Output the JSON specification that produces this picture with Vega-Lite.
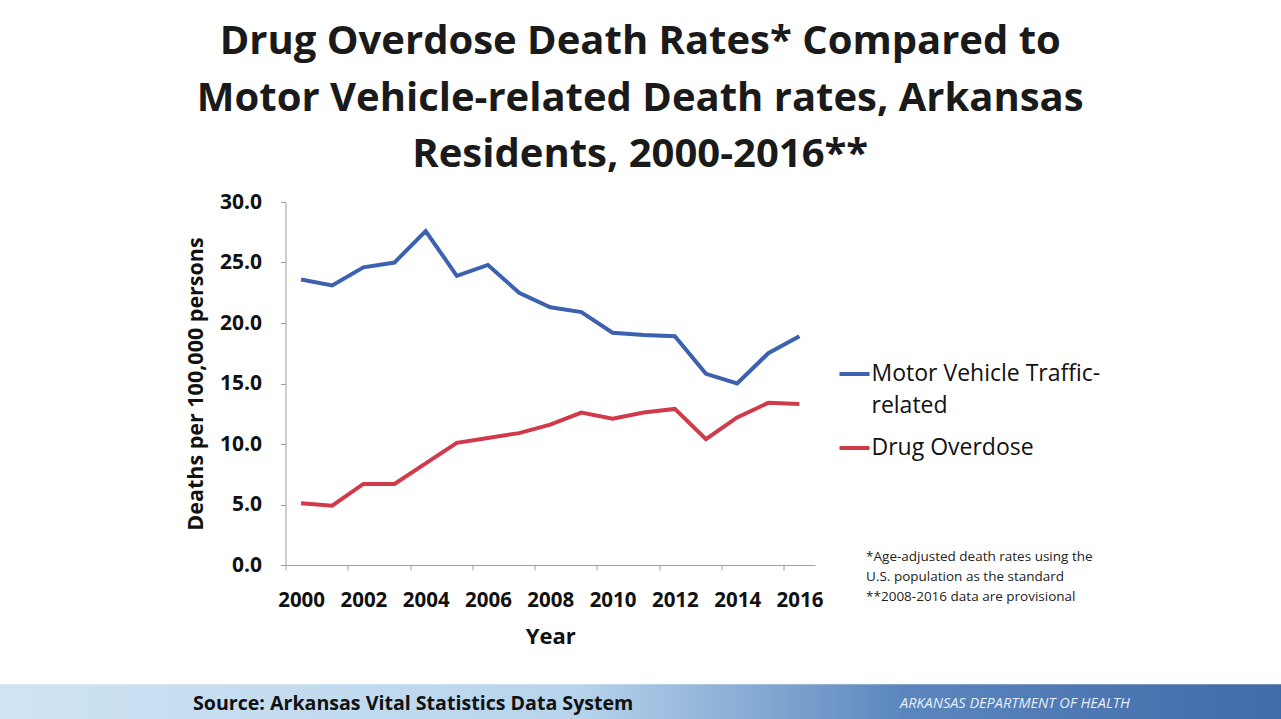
{
  "$schema": "https://vega.github.io/schema/vega-lite/v6.json",
  "autosize": {"type": "none"},
  "width": 529.5,
  "height": 363,
  "padding": {"left": 285.5, "top": 202, "right": 466, "bottom": 154},
  "background": "white",
  "config": {
    "font": "Open Sans",
    "view": {"stroke": null},
    "axis": {"grid": false}
  },
  "title": {
    "text": ["Drug Overdose Death Rates* Compared to", "Motor Vehicle-related Death rates, Arkansas", "Residents, 2000-2016**"],
    "font": "Open Sans",
    "fontSize": 40,
    "fontWeight": "bold",
    "color": "#1a1a1a",
    "anchor": "middle",
    "frame": "group",
    "dx": 90,
    "lineHeight": 56.5,
    "offset": 16
  },
  "data": {
    "values": [
      {"year": 2000, "series": "Motor Vehicle Traffic-related", "rate": 23.6},
      {"year": 2001, "series": "Motor Vehicle Traffic-related", "rate": 23.1},
      {"year": 2002, "series": "Motor Vehicle Traffic-related", "rate": 24.6},
      {"year": 2003, "series": "Motor Vehicle Traffic-related", "rate": 25.0},
      {"year": 2004, "series": "Motor Vehicle Traffic-related", "rate": 27.6},
      {"year": 2005, "series": "Motor Vehicle Traffic-related", "rate": 23.9},
      {"year": 2006, "series": "Motor Vehicle Traffic-related", "rate": 24.8},
      {"year": 2007, "series": "Motor Vehicle Traffic-related", "rate": 22.5},
      {"year": 2008, "series": "Motor Vehicle Traffic-related", "rate": 21.3},
      {"year": 2009, "series": "Motor Vehicle Traffic-related", "rate": 20.9},
      {"year": 2010, "series": "Motor Vehicle Traffic-related", "rate": 19.2},
      {"year": 2011, "series": "Motor Vehicle Traffic-related", "rate": 19.0},
      {"year": 2012, "series": "Motor Vehicle Traffic-related", "rate": 18.9},
      {"year": 2013, "series": "Motor Vehicle Traffic-related", "rate": 15.8},
      {"year": 2014, "series": "Motor Vehicle Traffic-related", "rate": 15.0},
      {"year": 2015, "series": "Motor Vehicle Traffic-related", "rate": 17.5},
      {"year": 2016, "series": "Motor Vehicle Traffic-related", "rate": 18.9},
      {"year": 2000, "series": "Drug Overdose", "rate": 5.1},
      {"year": 2001, "series": "Drug Overdose", "rate": 4.9},
      {"year": 2002, "series": "Drug Overdose", "rate": 6.7},
      {"year": 2003, "series": "Drug Overdose", "rate": 6.7},
      {"year": 2004, "series": "Drug Overdose", "rate": 8.4},
      {"year": 2005, "series": "Drug Overdose", "rate": 10.1},
      {"year": 2006, "series": "Drug Overdose", "rate": 10.5},
      {"year": 2007, "series": "Drug Overdose", "rate": 10.9},
      {"year": 2008, "series": "Drug Overdose", "rate": 11.6},
      {"year": 2009, "series": "Drug Overdose", "rate": 12.6},
      {"year": 2010, "series": "Drug Overdose", "rate": 12.1},
      {"year": 2011, "series": "Drug Overdose", "rate": 12.6},
      {"year": 2012, "series": "Drug Overdose", "rate": 12.9},
      {"year": 2013, "series": "Drug Overdose", "rate": 10.4},
      {"year": 2014, "series": "Drug Overdose", "rate": 12.2},
      {"year": 2015, "series": "Drug Overdose", "rate": 13.4},
      {"year": 2016, "series": "Drug Overdose", "rate": 13.3}
    ]
  },
  "layer": [
    {
      "mark": {"type": "rect", "clip": false, "fill": {"gradient": "linear", "x1": 0, "x2": 1, "y1": 0, "y2": 0, "stops": [{"offset": 0, "color": "#cfe4f3"}, {"offset": 0.45, "color": "#b7d4ec"}, {"offset": 0.7, "color": "#5b86bd"}, {"offset": 1, "color": "#3f69a8"}]}},
      "data": {"values": [{"label": "footer"}]},
      "encoding": {
        "x": {"datum": 1990},
        "x2": {"datum": 2032},
        "y": {"datum": -9.85},
        "y2": {"datum": -13}
      }
    },
    {
      "mark": {"type": "text", "clip": false, "align": "left", "baseline": "middle", "font": "Open Sans", "fontSize": 19.6, "fontWeight": "bold", "color": "#111"},
      "data": {"values": [{"label": "Source: Arkansas Vital Statistics Data System"}]},
      "encoding": {
        "x": {"datum": 1996.53},
        "y": {"datum": -11.5},
        "text": {"field": "label"}
      }
    },
    {
      "mark": {"type": "text", "clip": false, "align": "left", "baseline": "middle", "font": "Open Sans", "fontSize": 14.5, "fontStyle": "italic", "color": "#e6eef7"},
      "data": {"values": [{"label": "ARKANSAS DEPARTMENT OF HEALTH"}]},
      "encoding": {
        "x": {"datum": 2019.23},
        "y": {"datum": -11.5},
        "text": {"field": "label"}
      }
    },
    {
      "mark": {"type": "text", "clip": false, "align": "left", "baseline": "top", "font": "Open Sans", "fontSize": 13.5, "lineHeight": 20, "color": "#222"},
      "data": {"values": [{"label": ["*Age-adjusted death rates using the", "U.S. population as the standard", "**2008-2016 data are provisional"]}]},
      "encoding": {
        "x": {"datum": 2018.14},
        "y": {"datum": 1.25},
        "text": {"field": "label"}
      }
    },
    {
      "mark": {"type": "line", "strokeWidth": 4, "clip": false},
      "encoding": {
        "x": {
          "field": "year",
          "type": "quantitative",
          "scale": {"domain": [1999.5, 2016.5], "nice": false, "zero": false},
          "axis": {
            "title": "Year",
            "titleFont": "Open Sans",
            "titleFontSize": 22,
            "titleFontWeight": "bold",
            "titleColor": "#111",
            "titlePadding": 16,
            "values": [1999.5, 2000.5, 2001.5, 2002.5, 2003.5, 2004.5, 2005.5, 2006.5, 2007.5, 2008.5, 2009.5, 2010.5, 2011.5, 2012.5, 2013.5, 2014.5, 2015.5, 2016.5],
            "labelExpr": "((datum.value - 1999.5) % 2 == 0 && datum.value < 2016) ? format(datum.value + 0.5, 'd') : ''",
            "labelOffset": 15.6,
            "labelFont": "Open Sans",
            "labelFontSize": 20.5,
            "labelFontWeight": "bold",
            "labelColor": "#111",
            "labelPadding": 20,
            "labelOverlap": false,
            "labelFlush": false,
            "labelBound": false,
            "tickSize": 5,
            "tickColor": "#a0a0a0",
            "domainColor": "#a0a0a0"
          }
        },
        "y": {
          "field": "rate",
          "type": "quantitative",
          "scale": {"domain": [0, 30], "nice": false},
          "axis": {
            "title": "Deaths per 100,000 persons",
            "titleFont": "Open Sans",
            "titleFontSize": 21.5,
            "titleFontWeight": "bold",
            "titleColor": "#111",
            "titlePadding": 12,
            "values": [0, 5, 10, 15, 20, 25, 30],
            "format": ".1f",
            "labelFont": "Open Sans",
            "labelFontSize": 21,
            "labelFontWeight": "bold",
            "labelColor": "#111",
            "labelPadding": 19,
            "tickSize": 5,
            "tickColor": "#a0a0a0",
            "domainColor": "#a0a0a0"
          }
        },
        "color": {
          "field": "series",
          "type": "nominal",
          "scale": {"domain": ["Motor Vehicle Traffic-related", "Drug Overdose"], "range": ["#3c61ae", "#d13a48"]},
          "legend": {
            "title": null,
            "orient": "none",
            "legendX": 552,
            "legendY": 155,
            "symbolType": "stroke",
            "symbolSize": 900,
            "symbolStrokeWidth": 4,
            "labelFont": "Open Sans",
            "labelFontSize": 23,
            "labelColor": "#111",
            "labelLimit": 400,
            "labelOffset": 0,
            "rowPadding": 13,
            "labelExpr": "datum.label == 'Motor Vehicle Traffic-related' ? ['Motor Vehicle Traffic-', 'related'] : datum.label",
            "encode": {"labels": {"update": {"lineHeight": {"value": 32}}}}
          }
        }
      }
    }
  ]
}
